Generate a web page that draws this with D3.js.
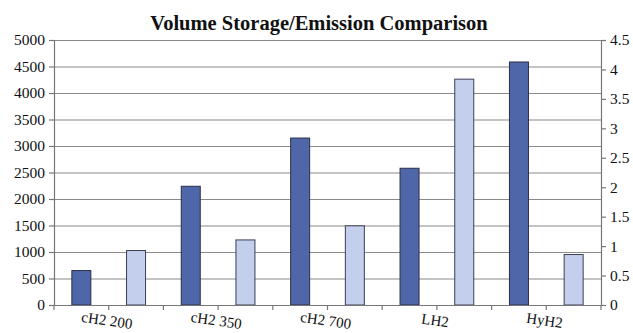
<!DOCTYPE html>
<html><head><meta charset="utf-8">
<script src="https://cdn.jsdelivr.net/npm/d3@7"></script>
<style>html,body{margin:0;padding:0;background:#fff;}</style>
</head><body>
<svg id="c" width="633" height="333"></svg>
<script>
const categories = ["cH2 200", "cH2 350", "cH2 700", "LH2", "HyH2"];
const storageValues = [650, 2240, 3150, 2580, 4585];      // left axis
const emissionValues = [0.925, 1.105, 1.345, 3.835, 0.857]; // right axis
const leftTicks = [0,500,1000,1500,2000,2500,3000,3500,4000,4500,5000];
const rightTicks = [0,0.5,1,1.5,2,2.5,3,3.5,4,4.5];
const seriesKeys = ["storage", "emission"];
const title = "Volume Storage/Emission Comparison";

const svg = d3.select("#c");
const m = {l: 54, r: 601, t: 40, b: 305};
const font = '"Liberation Serif","Times New Roman",serif';

const x = d3.scaleBand().domain(categories).range([m.l, m.r]);
const xs = d3.scaleBand().domain(seriesKeys).range([0, x.bandwidth()]);
const yL = d3.scaleLinear().domain([0, 5000]).range([m.b, m.t]);
const yR = d3.scaleLinear().domain([0, 4.5]).range([m.b, m.t]);

// gridlines
svg.append("g").selectAll("line").data(leftTicks.filter(d=>d>0)).join("line")
  .attr("x1", m.l).attr("x2", m.r)
  .attr("y1", d=>yL(d)+0.5).attr("y2", d=>yL(d)+0.5)
  .attr("stroke", "#8a8a8a").attr("stroke-width", 1.2);

// bars
const barW = 19;
const g = svg.append("g");
categories.forEach((c, i) => {
  const sx = x(c) + xs("storage") + xs.bandwidth()/2 - barW/2;
  g.append("rect").attr("x", sx).attr("y", yL(storageValues[i]))
    .attr("width", barW).attr("height", yL(0) - yL(storageValues[i]))
    .attr("fill", "#4f66a8").attr("stroke", "#2a2f45").attr("stroke-width", 1);
  const ex = x(c) + xs("emission") + xs.bandwidth()/2 - barW/2;
  g.append("rect").attr("x", ex).attr("y", yR(emissionValues[i]))
    .attr("width", barW).attr("height", yR(0) - yR(emissionValues[i]))
    .attr("fill", "#c3cfec").attr("stroke", "#3a3f55").attr("stroke-width", 1);
});

// left axis
const la = svg.append("g").attr("transform", `translate(${m.l},0)`)
  .call(d3.axisLeft(yL).tickValues(leftTicks).tickSize(5).tickPadding(4).tickFormat(d3.format("d")));
la.selectAll("text").style("font-family", font).style("font-size", "15.5px").attr("fill", "#111");
la.selectAll("line,path").attr("stroke", "#777").attr("stroke-width", 1.2);

// right axis
const ra = svg.append("g").attr("transform", `translate(${m.r},0)`)
  .call(d3.axisRight(yR).tickValues(rightTicks).tickSize(5).tickPadding(4).tickFormat(d=>String(d)));
ra.selectAll("text").style("font-family", font).style("font-size", "15.5px").attr("fill", "#111");
ra.selectAll("line,path").attr("stroke", "#777").attr("stroke-width", 1.2);

// bottom axis: ticks at each sub-band boundary
const tickPos = [];
categories.forEach(c => seriesKeys.forEach(k => tickPos.push(x(c) + xs(k))));
tickPos.push(m.r);
svg.append("line").attr("x1", m.l).attr("x2", m.r).attr("y1", m.b+0.5).attr("y2", m.b+0.5)
  .attr("stroke", "#777").attr("stroke-width", 1.2);
svg.append("g").selectAll("line").data(tickPos).join("line")
  .attr("x1", d=>d).attr("x2", d=>d).attr("y1", m.b).attr("y2", m.b+5)
  .attr("stroke", "#777").attr("stroke-width", 1.2);

svg.append("g").selectAll("text").data(categories).join("text")
  .attr("transform", c => `translate(${x(c) + x.bandwidth()/2 - 2},${m.b + 17}) rotate(8)`)
  .attr("text-anchor", "middle").attr("dominant-baseline", "middle")
  .style("font-family", font).style("font-size", "15px").attr("fill", "#111")
  .text(d=>d);

// title
svg.append("text").attr("x", 319).attr("y", 30).attr("text-anchor", "middle")
  .style("font-family", font).attr("font-weight", "bold").style("font-size", "20.5px")
  .attr("fill", "#111").text(title);
</script>
</body></html>
